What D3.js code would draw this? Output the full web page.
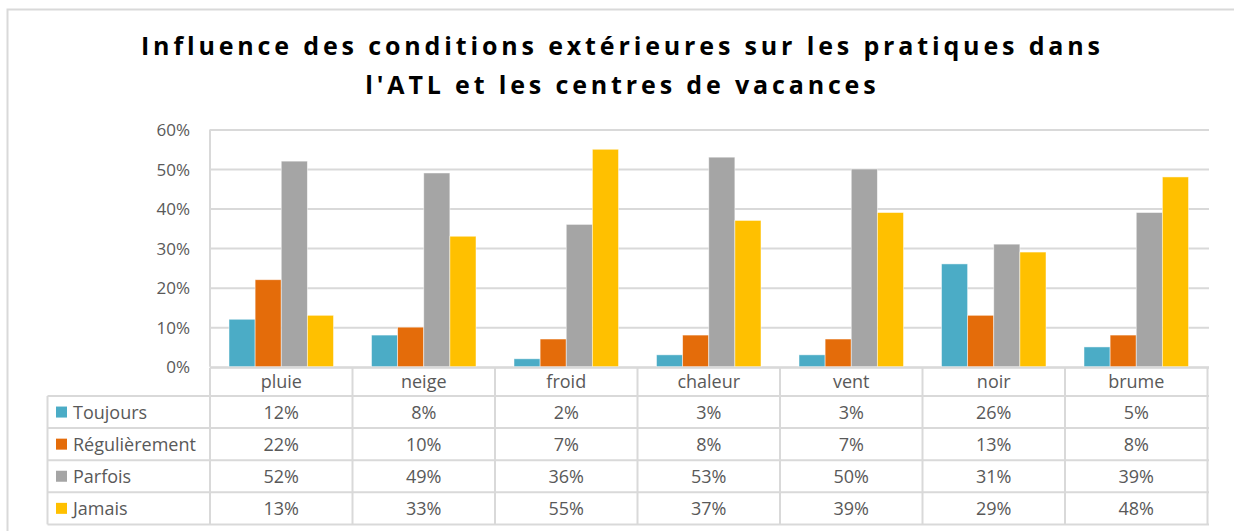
<!DOCTYPE html>
<html>
<head>
<meta charset="utf-8">
<script src="https://cdn.jsdelivr.net/npm/d3@7/dist/d3.min.js"></script>
<style>
  html, body { margin: 0; padding: 0; background: #fff; }
  svg { display: block; }
  text { font-family: "Open Sans", Lato, sans-serif; }
</style>
</head>
<body>
<svg id="chart" width="1234" height="531"></svg>
<script>
// Conditions (categories) and answer frequencies (series)
const categories = ["pluie", "neige", "froid", "chaleur", "vent", "noir", "brume"];
const seriesNames = ["Toujours", "Régulièrement", "Parfois", "Jamais"];
const toujours      = [0.12, 0.08, 0.02, 0.03, 0.03, 0.26, 0.05];
const regulierement = [0.22, 0.10, 0.07, 0.08, 0.07, 0.13, 0.08];
const parfois       = [0.52, 0.49, 0.36, 0.53, 0.50, 0.31, 0.39];
const jamais        = [0.13, 0.33, 0.55, 0.37, 0.39, 0.29, 0.48];
const yTicks = [0, 0.1, 0.2, 0.3, 0.4, 0.5, 0.6];
const titleLines = [
  "Influence des conditions extérieures sur les pratiques dans",
  "l'ATL et les centres de vacances"
];

const seriesValues = [toujours, regulierement, parfois, jamais];
const colors = ["#4BACC6", "#E46C0A", "#A5A5A5", "#FFC000"];

const svg = d3.select("#chart");
const gridColor = "#D9D9D9";
const textColor = "#595959";
const pct = d3.format(".0%");

// Outer chart frame
svg.append("rect")
  .attr("x", 7.5).attr("y", 9.5)
  .attr("width", 1260).attr("height", 540)
  .attr("fill", "none").attr("stroke", gridColor).attr("stroke-width", 2);

// Title with widened letter spacing
const titleCx = 620.5;
const titleBaselines = [55, 94];
const titleTexts = svg.append("g").selectAll("text").data(titleLines).join("text")
  .attr("x", titleCx)
  .attr("y", (d, i) => titleBaselines[i])
  .attr("text-anchor", "middle")
  .attr("font-size", 25)
  .attr("font-weight", 700)
  .attr("fill", "#000")
  .text(d => d);
const firstLen = titleTexts.node().getComputedTextLength();
const spacing = Math.max(0, (959 - firstLen) / (titleLines[0].length - 1));
titleTexts.style("letter-spacing", spacing + "px")
  .attr("x", titleCx + spacing / 2);

// Scales
const plotLeft = 210, plotRight = 1207.5, plotTop = 129.5, plotBottom = 366.7;
const x = d3.scaleBand().domain(categories).range([plotLeft, plotRight]);
const bandPad = 19;
const xSub = d3.scaleBand().domain(seriesNames).range([bandPad, x.bandwidth() - bandPad]);
const y = d3.scaleLinear().domain([0, 0.6]).range([plotBottom, plotTop]);

// Horizontal gridlines and percent labels
const yAxis = d3.axisLeft(y).tickValues(yTicks).tickFormat(pct)
  .tickSize(-(plotRight - plotLeft + 1.5)).tickPadding(20);
const yG = svg.append("g").attr("transform", `translate(${plotLeft},0)`).call(yAxis);
yG.select(".domain").remove();
yG.selectAll(".tick line").attr("stroke", gridColor).attr("stroke-width", 2);
yG.selectAll(".tick text")
  .attr("fill", textColor).attr("font-size", 17)
  .attr("font-family", "'Open Sans', Lato, sans-serif")
  .attr("dy", "0.36em");

// Left vertical line of the plot area
svg.append("line")
  .attr("x1", plotLeft).attr("x2", plotLeft)
  .attr("y1", plotTop).attr("y2", plotBottom)
  .attr("stroke", gridColor).attr("stroke-width", 2);

// Clustered bars
const barData = [];
categories.forEach((c, ci) => {
  seriesNames.forEach((s, si) => {
    barData.push({ cat: c, series: s, value: seriesValues[si][ci], color: colors[si] });
  });
});
svg.append("g").selectAll("rect").data(barData).join("rect")
  .attr("x", d => x(d.cat) + xSub(d.series))
  .attr("width", xSub.bandwidth())
  .attr("y", d => y(d.value))
  .attr("height", d => y(0) - y(d.value))
  .attr("fill", d => d.color)
  .attr("stroke", "rgba(255,255,255,0.6)")
  .attr("stroke-width", 0.8);

// Data table below the chart
const tableLeft = 47.5;
const headerTop = 367.7, headerBottom = 396;
const rowH = 32.1;
const rowTops = seriesNames.map((s, i) => headerBottom + i * rowH);
const tableBottom = headerBottom + seriesNames.length * rowH;
const tg = svg.append("g");

// Header row frame (category columns only)
tg.append("line").attr("x1", plotLeft).attr("x2", plotRight + 1.5)
  .attr("y1", headerTop).attr("y2", headerTop)
  .attr("stroke", gridColor).attr("stroke-width", 2);
// Row borders
[headerBottom, ...rowTops.slice(1), tableBottom].forEach(yy => {
  tg.append("line").attr("x1", tableLeft).attr("x2", plotRight + 1.5)
    .attr("y1", yy).attr("y2", yy)
    .attr("stroke", gridColor).attr("stroke-width", 2);
});
// Column borders
tg.append("line").attr("x1", tableLeft).attr("x2", tableLeft)
  .attr("y1", headerBottom).attr("y2", tableBottom)
  .attr("stroke", gridColor).attr("stroke-width", 2);
const colEdges = [plotLeft, ...categories.map(c => x(c) + x.bandwidth())];
colEdges.forEach(xx => {
  tg.append("line").attr("x1", xx).attr("x2", xx)
    .attr("y1", headerTop).attr("y2", tableBottom)
    .attr("stroke", gridColor).attr("stroke-width", 2);
});

// Category header labels
tg.selectAll("text.cat").data(categories).join("text")
  .attr("class", "cat")
  .attr("x", d => x(d) + x.bandwidth() / 2)
  .attr("y", (headerTop + headerBottom) / 2)
  .attr("dy", "0.36em")
  .attr("text-anchor", "middle")
  .attr("font-size", 18).attr("fill", textColor)
  .text(d => d);

// Legend keys, series names and values
seriesNames.forEach((s, si) => {
  const cy = rowTops[si] + rowH / 2;
  tg.append("rect")
    .attr("x", 56).attr("y", cy - 5.5)
    .attr("width", 11).attr("height", 11)
    .attr("fill", colors[si]);
  tg.append("text")
    .attr("x", 73).attr("y", cy).attr("dy", "0.36em")
    .attr("font-size", 18).attr("fill", textColor)
    .text(s);
  tg.selectAll(null).data(categories).join("text")
    .attr("x", d => x(d) + x.bandwidth() / 2)
    .attr("y", cy).attr("dy", "0.36em")
    .attr("text-anchor", "middle")
    .attr("font-size", 18).attr("fill", textColor)
    .text((d, ci) => pct(seriesValues[si][ci]));
});
</script>
</body>
</html>
